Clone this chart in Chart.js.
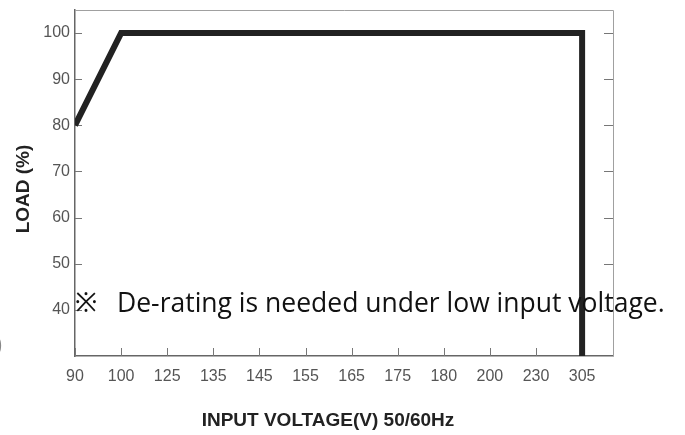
<!DOCTYPE html>
<html>
<head>
<meta charset="utf-8">
<script src="https://cdn.jsdelivr.net/npm/chart.js@4/dist/chart.umd.min.js"></script>
<style>
  body { margin: 0; background: #fff; }
  canvas { display: block; }
</style>
</head>
<body>
<canvas id="derating" width="685" height="435"></canvas>
<script>
// input voltage categories along the bottom (evenly spaced)
const voltages = ["90", "100", "125", "135", "145", "155", "165", "175", "180", "200", "230", "305"];
const loadTicks = [40, 50, 60, 70, 80, 90, 100];

// the derating curve: voltage -> load %
const curveVoltage = ["90", "100", "305", "305"];
const curveLoad = [80, 100, 100, 30];

const noteMark = "\u203B";
const note = "De-rating is needed under low input voltage.";
const xTitle = "INPUT VOLTAGE(V) 50/60Hz";
const yTitle = "LOAD (%)";

const tickFont = { family: "'Liberation Sans', Arial, sans-serif", size: 16 };

const points = curveVoltage.map((v, i) => ({ x: voltages.indexOf(v), y: curveLoad[i] }));

// frame, inward tick marks, axis titles and the note text
const extras = {
    id: "extras",
    beforeDatasetsDraw(chart) {
        const { ctx, chartArea: a, scales } = chart;
        ctx.save();
        ctx.lineWidth = 1;
        ctx.strokeStyle = "#a0a0a0";
        ctx.beginPath();
        ctx.moveTo(a.left, a.top + 0.5);
        ctx.lineTo(a.right + 0.5, a.top + 0.5);
        ctx.lineTo(a.right + 0.5, a.bottom);
        ctx.stroke();

        ctx.strokeStyle = "#777";
        ctx.beginPath();
        loadTicks.forEach(v => {
            const y = Math.round(scales.y.getPixelForValue(v)) + 0.5;
            ctx.moveTo(a.left, y); ctx.lineTo(a.left + 7, y);
            ctx.moveTo(a.right, y); ctx.lineTo(a.right - 9, y);
        });
        voltages.forEach((v, i) => {
            const x = Math.round(scales.x.getPixelForValue(i)) + 0.5;
            ctx.moveTo(x, a.bottom); ctx.lineTo(x, a.bottom - 8);
        });
        ctx.stroke();
        ctx.restore();
    },
    afterDraw(chart) {
        const { ctx, chartArea: a } = chart;
        ctx.save();
        ctx.fillStyle = "#222";
        ctx.font = "bold 19px 'Liberation Sans', Arial, sans-serif";
        ctx.textAlign = "center";
        ctx.textBaseline = "middle";
        ctx.fillText(xTitle, 328, 421);
        ctx.save();
        ctx.translate(24, 189);
        ctx.rotate(-Math.PI / 2);
        ctx.fillText(yTitle, 0, 0);
        ctx.restore();

        ctx.fillStyle = "#111";
        ctx.font = "26.5px 'Open Sans', 'Noto Sans', sans-serif";
        ctx.textAlign = "left";
        ctx.textBaseline = "alphabetic";
        ctx.fillText(noteMark, a.left, 312);
        ctx.fillText(note, 117, 312);

        ctx.fillStyle = "#888";
        ctx.font = "24px 'Open Sans', sans-serif";
        ctx.fillText(")", -5, 352);
        ctx.restore();
    }
};

new Chart(document.getElementById("derating"), {
    type: "line",
    data: {
        datasets: [{
            data: points,
            borderColor: "#222",
            borderWidth: 6,
            borderJoinStyle: "miter",
            borderCapStyle: "butt",
            pointRadius: 0,
            fill: false,
            tension: 0,
        }],
    },
    options: {
        responsive: false,
        animation: false,
        layout: { padding: { left: 0, top: 10, right: 72, bottom: 0 } },
        plugins: { legend: { display: false }, tooltip: { enabled: false } },
        scales: {
            x: {
                type: "linear",
                min: 0,
                max: 11.67,
                afterBuildTicks: s => { s.ticks = voltages.map((v, i) => ({ value: i })); },
                afterFit: s => { s.height = 79; s.paddingLeft = 0; s.paddingRight = 0; },
                ticks: {
                    color: "#555",
                    font: tickFont,
                    padding: 11,
                    maxRotation: 0,
                    callback: v => voltages[v],
                },
                grid: { display: false, drawTicks: false },
                border: { display: true, color: "#666", width: 1.5 },
            },
            y: {
                min: 30,
                max: 105,
                afterBuildTicks: s => { s.ticks = loadTicks.map(v => ({ value: v })); },
                afterFit: s => { s.width = 75; s.paddingTop = 0; s.paddingBottom = 0; },
                ticks: { color: "#555", font: tickFont, padding: 5 },
                grid: { display: false, drawTicks: false },
                border: { display: true, color: "#666", width: 1.5 },
            },
        },
    },
    plugins: [extras],
});
</script>
</body>
</html>
